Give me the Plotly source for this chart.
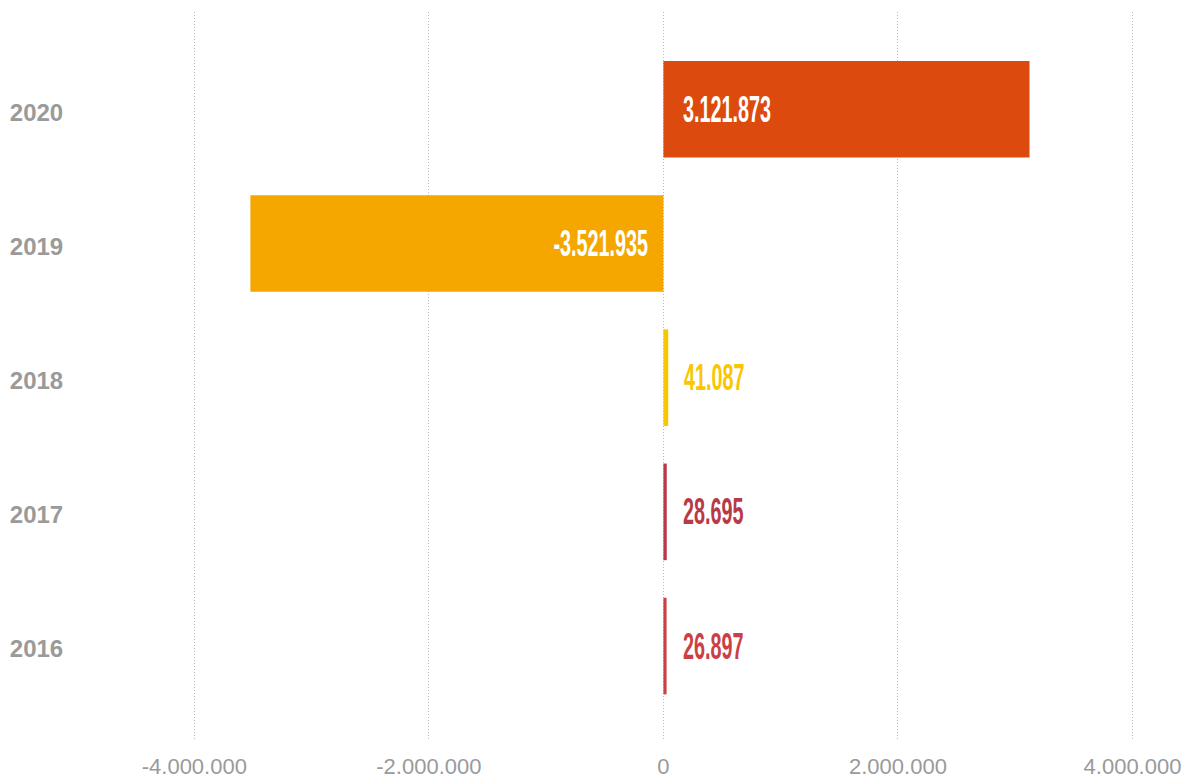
import plotly.graph_objects as go

# Yearly balance, one bar per year
years = [2016, 2017, 2018, 2019, 2020]
values = [26897, 28695, 41087, -3521935, 3121873]
bar_colors = ["#CC3F45", "#B83A47", "#F9C600", "#F5A700", "#DD4A0E"]

tick_vals = [-4000000, -2000000, 0, 2000000, 4000000]
tick_text = ["-4.000.000", "-2.000.000", "0", "2.000.000", "4.000.000"]


def fmt(v):
    s = f"{abs(v):,}".replace(",", ".")
    return ("-" if v < 0 else "") + s


fig = go.Figure(
    go.Bar(
        x=values,
        y=years,
        orientation="h",
        width=0.72,
        marker=dict(color=bar_colors, line=dict(width=0)),
        hoverinfo="skip",
    )
)

label_font = "Liberation Sans, Arial, sans-serif"
big_threshold = 1000000
for y, v, c in zip(years, values, bar_colors):
    if abs(v) >= big_threshold:
        # label sits inside the bar, next to its base
        if v > 0:
            anchor, shift = "left", 18
        else:
            anchor, shift = "right", -13
        color = "white"
        xpos = 0
    else:
        # label sits just past the end of the thin bar
        anchor, shift = "left", 14
        color = c
        xpos = v
    fig.add_annotation(
        x=xpos, y=y, xref="x", yref="y", text="<b>" + fmt(v) + "</b>",
        showarrow=False, xanchor=anchor, xshift=shift, yanchor="middle",
        font=dict(family=label_font, size=36, color=color),
    )

fig.update_layout(
    width=1190,
    height=779,
    margin=dict(l=70, r=10, t=12, b=39),
    paper_bgcolor="white",
    plot_bgcolor="white",
    showlegend=False,
    xaxis=dict(
        range=[-5.06e6, 4.405e6],
        tickvals=tick_vals,
        ticktext=tick_text,
        showgrid=True,
        gridcolor="#b8b8b8",
        griddash="1px,2px",
        gridwidth=1,
        zeroline=False,
        showline=False,
        automargin=False,
        ticks="outside",
        ticklen=7,
        tickcolor="rgba(0,0,0,0)",
        tickfont=dict(family="Liberation Sans, Arial, sans-serif", size=22, color="#9a9a9a"),
    ),
    yaxis=dict(
        range=[2015.3, 2020.725],
        tickvals=years,
        ticktext=[str(y) for y in years],
        showgrid=False,
        zeroline=False,
        showline=False,
        automargin=False,
        ticks="outside",
        ticklen=1,
        ticklabelshift=3,
        tickcolor="rgba(0,0,0,0)",
        tickfont=dict(family="Liberation Sans, Arial, sans-serif", size=24, color="#9a9a9a", weight="bold"),
    ),
)

# Value labels are drawn in a narrow, tall style: compress each label
# horizontally around the edge it is anchored to.
narrow_labels = """
var gd = document.getElementById('{plot_id}');
function narrowLabels() {
  var anns = (gd.layout && gd.layout.annotations) || [];
  gd.querySelectorAll('g.annotation').forEach(function (g) {
    var a = anns[+g.getAttribute('data-index')];
    var t = g.querySelector('text.annotation-text');
    if (!a || !t) return;
    t.style.transformBox = 'fill-box';
    t.style.transformOrigin = (a.xanchor === 'right' ? 'right' : 'left') + ' center';
    t.style.transform = 'scaleX(0.55)';
  });
}
narrowLabels();
gd.on('plotly_afterplot', narrowLabels);
"""

fig.write_html("out.html", post_script=narrow_labels)
